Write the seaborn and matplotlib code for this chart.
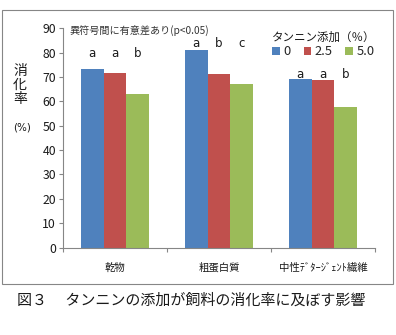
import matplotlib
matplotlib.use("Agg")
import matplotlib.pyplot as plt
import seaborn as sns
import pandas as pd
from matplotlib.patches import Rectangle
from matplotlib.ticker import MultipleLocator

categories = ["乾物", "粗蛋白質", "中性ﾃﾞﾀｰｼﾞｪﾝﾄ繊維"]
levels = ["0", "2.5", "5.0"]
vals_0 = [73.4, 81.1, 69.3]
vals_25 = [71.5, 71.2, 68.9]
vals_50 = [63.0, 67.0, 57.9]
letters_0 = ["a", "a", "a"]
letters_25 = ["a", "b", "a"]
letters_50 = ["b", "c", "b"]

rows = []
for lv, vals in zip(levels, [vals_0, vals_25, vals_50]):
    for c, v in zip(categories, vals):
        rows.append({"cat": c, "level": lv, "value": v})
df = pd.DataFrame(rows)

sns.set_theme(style="white")
plt.rcParams["font.family"] = ["Noto Sans CJK JP", "DejaVu Sans"]

fig = plt.figure(figsize=(3.96, 3.35), dpi=100)
ax = fig.add_axes([0.159, 0.261, 0.788, 0.6545])

palette = ["#4F81BD", "#C0504D", "#9BBB59"]
sns.barplot(data=df, x="cat", y="value", hue="level", order=categories,
            hue_order=levels, palette=palette, width=0.66, ax=ax,
            saturation=1, edgecolor="none", legend=True)

ax.set_ylim(0, 90)
ax.set_xlim(-0.5, 2.5)
ax.yaxis.set_major_locator(MultipleLocator(10))
ax.set_xlabel("")
ax.set_ylabel("")
for s in ["top", "right"]:
    ax.spines[s].set_visible(False)
for s in ["left", "bottom"]:
    ax.spines[s].set_color("#868686")
    ax.spines[s].set_linewidth(0.8)
ax.tick_params(axis="y", left=True, length=3, width=0.8, color="#868686",
               labelsize=8.8, pad=2, labelcolor="#1a1a1a")
ax.tick_params(axis="x", bottom=False, labelsize=7.5, pad=5, labelcolor="#1a1a1a")
ax.set_xticks([-0.5, 0.5, 1.5, 2.5], minor=True)
ax.tick_params(axis="x", which="minor", bottom=True, length=3, width=0.8,
               color="#868686")

# significance letters
letter_sets = [letters_0, letters_25, letters_50]
letter_y = [79.8, 83.8, 71.0]
for i, cont in enumerate(ax.containers):
    for j, bar in enumerate(cont):
        ax.text(bar.get_x() + bar.get_width() / 2, letter_y[j], letter_sets[i][j],
                ha="center", va="center", fontsize=8.5, color="#1a1a1a",
                family=["DejaVu Sans"])

ax.text(0.022, 0.99, "異符号間に有意差あり(p<0.05)", transform=ax.transAxes,
        ha="left", va="center", fontsize=7.3, color="#333333")

# legend
handles, labels = ax.get_legend_handles_labels()
leg = ax.legend(handles, labels, title="タンニン添加（％）", ncol=3, frameon=False,
                loc="center", bbox_to_anchor=(0.835, 0.925),
                handlelength=0.55, handleheight=0.55, handletextpad=0.3,
                columnspacing=1.0, fontsize=9.3, title_fontsize=8.3,
                borderpad=0.0, labelspacing=0.2)
leg.get_title().set_color("#1a1a1a")
leg._legend_box.sep = 1

# y labels
fig.text(20 / 396, 1 - 85 / 335, "消\n化\n率", ha="center", va="center",
         fontsize=10, linespacing=1.0, color="#1a1a1a")
fig.text(22 / 396, 1 - 127 / 335, "(%)", ha="center", va="center",
         fontsize=7.5, color="#1a1a1a", family=["DejaVu Sans"])

# chart border
fig.patches.append(Rectangle((1.5 / 396, 1 - 284 / 335), 391 / 396, 274 / 335,
                             transform=fig.transFigure, fill=False,
                             edgecolor="#868686", linewidth=0.8))

fig.text(17 / 396, 1 - 301 / 335, "図３　 タンニンの添加が飼料の消化率に及ぼす影響",
         ha="left", va="center", fontsize=10.8, color="#1a1a1a")

fig.savefig("out.png", dpi=100)
